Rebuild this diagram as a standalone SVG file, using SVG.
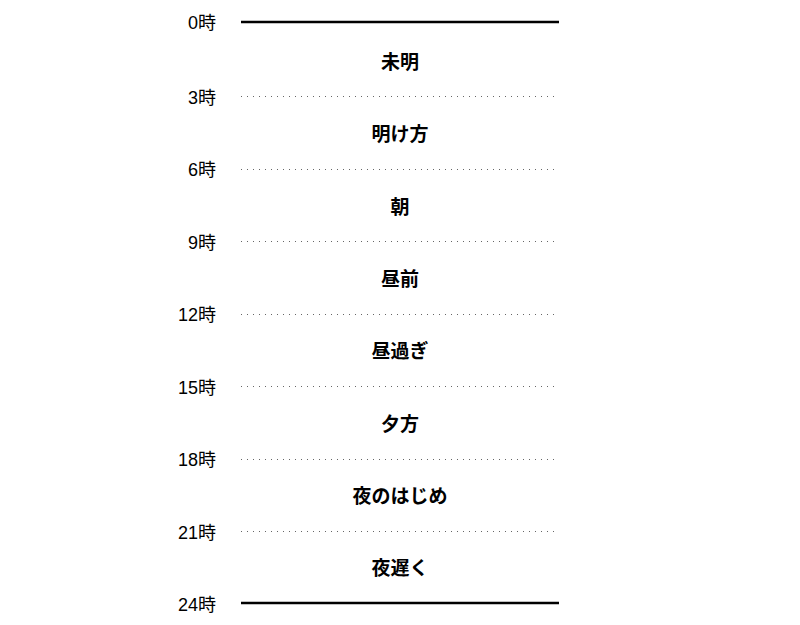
<svg xmlns="http://www.w3.org/2000/svg" width="800" height="625" viewBox="0 0 800 625">
<style>
.tick{font-family:"Liberation Sans","Noto Sans CJK JP",sans-serif;font-size:18px;fill:#000;text-anchor:end}
.period{font-family:"Noto Sans CJK JP","Noto Sans",sans-serif;font-size:19px;font-weight:bold;fill:#000;text-anchor:middle}
.solid{stroke:#000;stroke-width:2.5;fill:none}
.dot{stroke:#666;stroke-width:1;stroke-dasharray:1 5;fill:none}
</style>
<rect width="800" height="625" fill="#fff"/>
<g id="connectors">
<line class="solid" x1="241" y1="22" x2="559" y2="22"/>
<line class="dot" x1="241" y1="96.5" x2="559" y2="96.5"/>
<line class="dot" x1="241" y1="169.5" x2="559" y2="169.5"/>
<line class="dot" x1="241" y1="241.5" x2="559" y2="241.5"/>
<line class="dot" x1="241" y1="314.5" x2="559" y2="314.5"/>
<line class="dot" x1="241" y1="386.5" x2="559" y2="386.5"/>
<line class="dot" x1="241" y1="459.5" x2="559" y2="459.5"/>
<line class="dot" x1="241" y1="531.5" x2="559" y2="531.5"/>
<line class="solid" x1="241" y1="603" x2="559" y2="603"/>
</g>
<g id="t0"><text class="tick" x="216" y="29">0時</text></g>
<g id="t3"><text class="tick" x="216" y="104">3時</text></g>
<g id="t6"><text class="tick" x="216" y="176">6時</text></g>
<g id="t9"><text class="tick" x="216" y="249">9時</text></g>
<g id="t12"><text class="tick" x="216" y="321">12時</text></g>
<g id="t15"><text class="tick" x="216" y="394">15時</text></g>
<g id="t18"><text class="tick" x="216" y="466">18時</text></g>
<g id="t21"><text class="tick" x="216" y="539">21時</text></g>
<g id="t24"><text class="tick" x="216" y="611">24時</text></g>
<g id="p1"><text class="period" x="400" y="69">未明</text></g>
<g id="p2"><text class="period" x="400" y="141">明け方</text></g>
<g id="p3"><text class="period" x="400" y="214">朝</text></g>
<g id="p4"><text class="period" x="400" y="286">昼前</text></g>
<g id="p5"><text class="period" x="400" y="358">昼過ぎ</text></g>
<g id="p6"><text class="period" x="400" y="431">夕方</text></g>
<g id="p7"><text class="period" x="400" y="503">夜のはじめ</text></g>
<g id="p8"><text class="period" x="400" y="575">夜遅く</text></g>
</svg>
